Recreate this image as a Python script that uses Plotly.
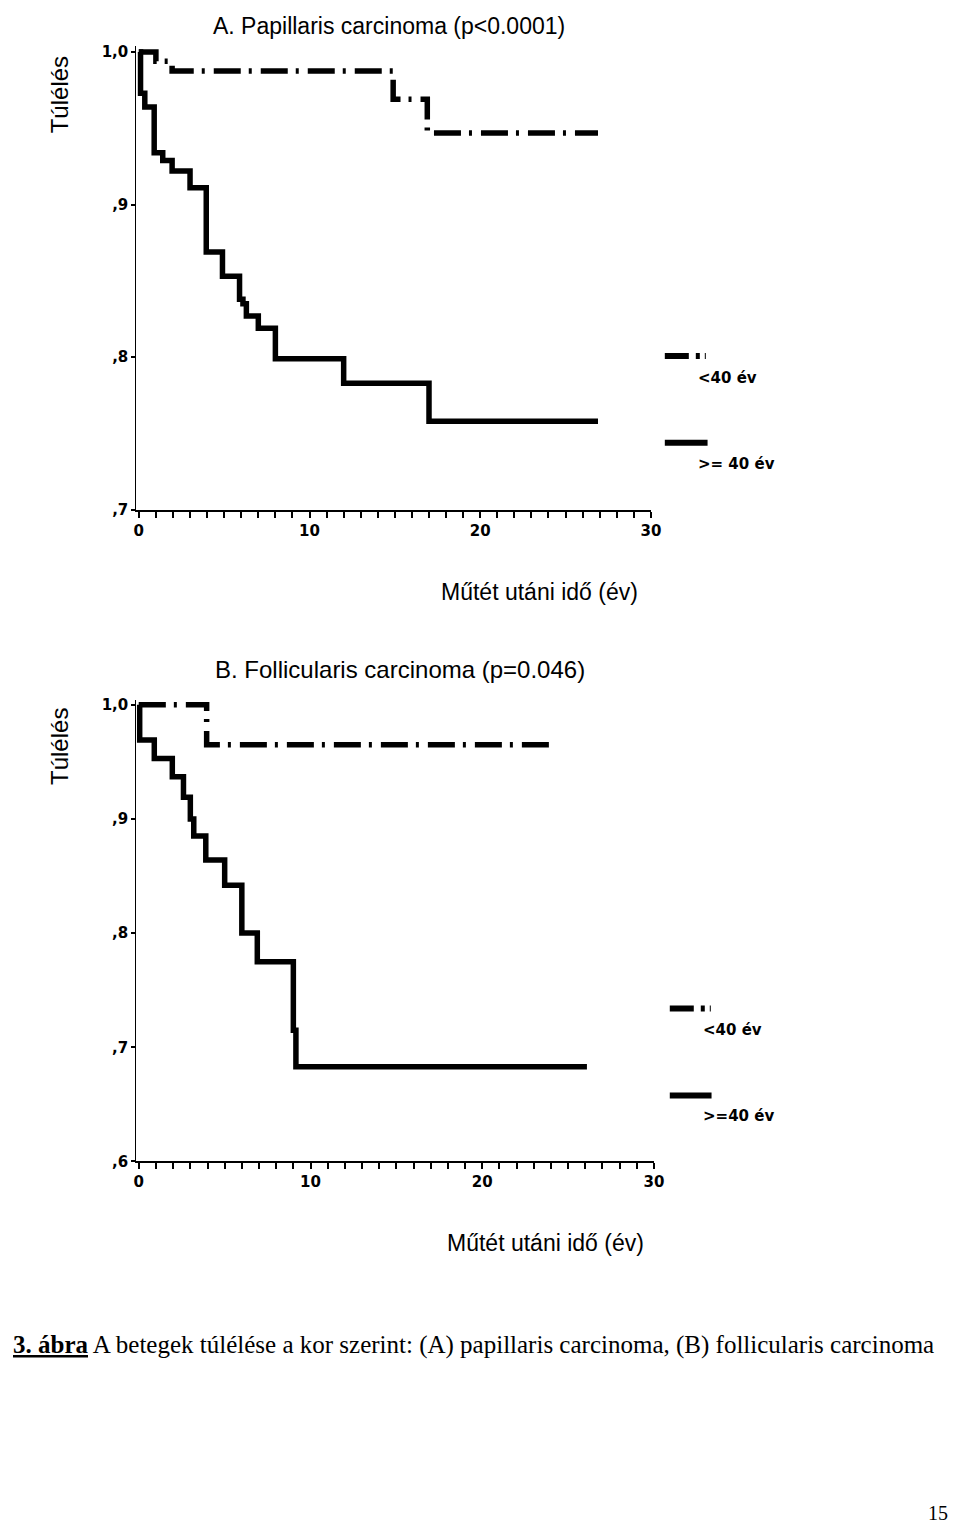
import plotly.graph_objects as go

# ---------------- data ----------------
# Panel A: Papillaris carcinoma (Kaplan-Meier steps: time in years, survival after event)
a_young_t = [0, 1.0, 1.95, 14.9, 16.9, 26.9]
a_young_s = [1.0, 0.994, 0.9875, 0.969, 0.947, 0.947]

a_old_t = [0, 0.1, 0.35, 0.9, 1.4, 1.95, 3.0, 3.95, 4.9, 5.9, 6.1, 6.3, 7.0, 8.0, 12.0, 17.0, 26.9]
a_old_s = [1.0, 0.973, 0.964, 0.934, 0.929, 0.922, 0.911, 0.869, 0.853, 0.838, 0.835, 0.827,
           0.819, 0.799, 0.783, 0.758, 0.758]

# Panel B: Follicularis carcinoma
b_young_t = [0, 3.95, 24.0]
b_young_s = [1.0, 0.965, 0.965]

b_old_t = [0, 0.05, 0.9, 1.95, 2.6, 3.0, 3.2, 3.9, 5.0, 6.0, 6.9, 9.0, 9.15, 26.1]
b_old_s = [1.0, 0.969, 0.953, 0.937, 0.919, 0.900, 0.885, 0.864, 0.842, 0.800, 0.775,
           0.715, 0.683, 0.683]

x_tickvals = [0, 10, 20, 30]
x_ticktext = ["0", "10", "20", "30"]
a_y_tickvals = [0.7, 0.8, 0.9, 1.0]
a_y_ticktext = [",7", ",8", ",9", "1,0"]
b_y_tickvals = [0.6, 0.7, 0.8, 0.9, 1.0]
b_y_ticktext = [",6", ",7", ",8", ",9", "1,0"]

title_a = "A. Papillaris carcinoma (p<0.0001)"
title_b = "B. Follicularis carcinoma (p=0.046)"
x_title = "Műtét utáni idő (év)"
y_title = "Túlélés"
legend_a = ["<40 év", ">= 40 év"]
legend_b = ["<40 év", ">=40 év"]
caption = "<b><u>3. ábra</u></b> A betegek túlélése a kor szerint: (A) papillaris carcinoma, (B) follicularis carcinoma"
page_no = "15"

# ---------------- layout helpers ----------------
# the page body has the browser's default 8px margin; small empirical rescale
OFF = 8
S = 0.992
W, H = 960 - OFF, 1535 - OFF
def px(x):
    return min(1.0, max(0.0, ((x - 0.5) / S - OFF) / W))
def py(y):
    return min(1.0, max(0.0, 1 - ((y - 4) / S - OFF) / H))

DASHDOT = "27px,8px,3px,9px"
LW = 5.5

fig = go.Figure()
fig.add_trace(go.Scatter(x=a_young_t, y=a_young_s, mode="lines", line=dict(shape="hv", color="black", width=LW, dash=DASHDOT), xaxis="x", yaxis="y", showlegend=False))
fig.add_trace(go.Scatter(x=a_old_t, y=a_old_s, mode="lines", line=dict(shape="hv", color="black", width=LW), xaxis="x", yaxis="y", showlegend=False))
fig.add_trace(go.Scatter(x=b_young_t, y=b_young_s, mode="lines", line=dict(shape="hv", color="black", width=LW, dash=DASHDOT), xaxis="x2", yaxis="y2", showlegend=False))
fig.add_trace(go.Scatter(x=b_old_t, y=b_old_s, mode="lines", line=dict(shape="hv", color="black", width=LW), xaxis="x2", yaxis="y2", showlegend=False))

tickfont = dict(family="DejaVu Sans", size=15, color="black", weight="bold")

def xaxis_cfg(left_px, right_px, anchor):
    return dict(domain=[px(left_px), px(right_px)], range=[-0.15, 30], anchor=anchor,
                tickmode="array", tickvals=x_tickvals, ticktext=x_ticktext,
                ticks="outside", ticklen=6, tickwidth=2, tickcolor="black",
                minor=dict(tickmode="linear", tick0=0, dtick=1, ticks="outside", ticklen=6,
                           tickwidth=1.5, tickcolor="black"),
                showline=True, linewidth=2, linecolor="black",
                showgrid=False, zeroline=False, tickfont=tickfont, fixedrange=True)

def yaxis_cfg(bottom_px, top_px, rng, tv, tt, anchor):
    return dict(domain=[py(bottom_px), py(top_px)], range=rng, anchor=anchor,
                tickmode="array", tickvals=tv, ticktext=tt,
                ticks="outside", ticklen=4, tickwidth=2, tickcolor="black",
                showline=True, linewidth=1, linecolor="black",
                showgrid=False, zeroline=False, tickfont=tickfont, fixedrange=True)

# Panel A: x 0 -> 137px, 30 -> 652px ; y 0.7 -> 510px, 1.0 -> 52px
a_ppy = (510 - 52) / 0.3
fig.update_layout(
    xaxis=xaxis_cfg(137 - 0.15 * (652 - 137) / 30, 652, "y"),
    yaxis=yaxis_cfg(510, 52 - 0.004 * a_ppy, [0.7, 1.004], a_y_tickvals, a_y_ticktext, "x"),
)
# Panel B: x 0 -> 137px, 30 -> 655px ; y 0.6 -> 1162px, 1.0 -> 705px
b_ppy = (1162 - 705) / 0.4
fig.update_layout(
    xaxis2=xaxis_cfg(137 - 0.15 * (655 - 137) / 30, 655, "y2"),
    yaxis2=yaxis_cfg(1162, 705 - 0.004 * b_ppy, [0.6, 1.004], b_y_tickvals, b_y_ticktext, "x2"),
)

sans = "Liberation Sans"
ann = []
def text(t, x, y, size, family=sans, xanchor="center", angle=0, weight="normal", yanchor="middle", pad=1):
    ann.append(dict(text=t, x=px(x), y=py(y), xref="paper", yref="paper", showarrow=False,
                    xanchor=xanchor, yanchor=yanchor, textangle=angle, borderpad=pad,
                    font=dict(family=family, size=size, color="black", weight=weight)))

text(title_a, 389, 0, 23, yanchor="top", pad=0)
text(title_b, 400, 670, 24)
text(y_title, 57, 95, 24, angle=-90)
text(y_title, 57, 747, 24, angle=-90)
text(x_title, 540, 592, 23)
text(x_title, 546, 1244, 23)

lfont = "DejaVu Sans"
text(legend_a[0], 697, 378, 15, family=lfont, xanchor="left", weight="bold")
text(legend_a[1], 697, 464, 15, family=lfont, xanchor="left", weight="bold")
text(legend_b[0], 702, 1030, 15, family=lfont, xanchor="left", weight="bold")
text(legend_b[1], 702, 1117, 15, family=lfont, xanchor="left", weight="bold")

text(caption, 0, 1346, 25, family="Liberation Serif", xanchor="left")
text(page_no, 960, 1535, 20, family="Liberation Serif", xanchor="right", yanchor="bottom")

# legend line samples
shapes = []
def sample(x0, x1, y, dash):
    shapes.append(dict(type="line", xref="paper", yref="paper", x0=px(x0), x1=px(x1), y0=py(y), y1=py(y),
                       line=dict(color="black", width=6, dash=dash)))
sample(666, 710, 356, "24px,7px,4px,5px,1px,20px")
sample(666, 709, 443, "solid")
sample(671, 714, 1009, "24px,7px,4px,5px,1px,20px")
sample(671, 713, 1096, "solid")

fig.update_layout(width=W, height=H, margin=dict(l=0, r=0, t=0, b=0),
                  paper_bgcolor="white", plot_bgcolor="white",
                  annotations=ann, shapes=shapes, showlegend=False)

fig.write_html("out.html")
